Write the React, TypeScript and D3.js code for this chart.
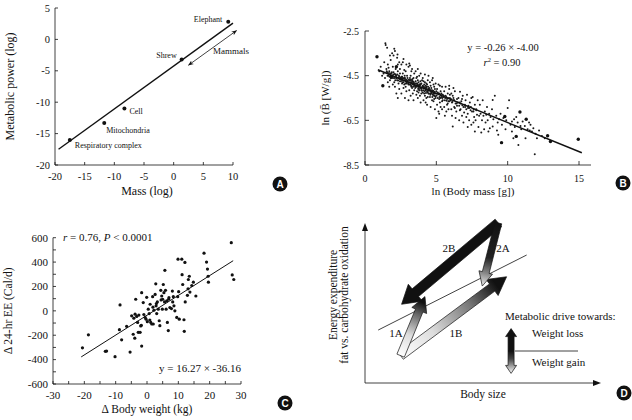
import React from 'react';
import * as d3 from 'd3';

const FONT = '"Liberation Serif", "Times New Roman", serif';

// ---- Panel A: metabolic power vs mass (log-log)
const massTicksA = [-20, -15, -10, -5, 0, 5, 10];
const powerTicksA = [-20, -15, -10, -5, 0, 5];
const organismsA = [
  { name: 'Elephant', mass: 9.2, power: 2.8 },
  { name: 'Shrew', mass: 1.35, power: -3.2 },
  { name: 'Cell', mass: -8.3, power: -11.0 },
  { name: 'Mitochondria', mass: -11.7, power: -13.3 },
  { name: 'Respiratory complex', mass: -17.5, power: -16.0 },
];
const fitA: [number, number][] = [[-19.4, -17.5], [10, 2.6]];
const mammalRangeA: [number, number][] = [[2.5, -4.1], [10.6, 1.4]];

// ---- Panel B: ln mass-specific metabolic rate vs ln body mass
const massTicksB = [0, 5, 10, 15];
const rateTicksB = [-2.5, -4.5, -6.5, -8.5];
const fitB = { slope: -0.26, intercept: -4.0, from: 0.9, to: 15.2 };
const speciesB: [number, number][] = [
  [1.0, -4.3], [1.1, -4.1], [1.3, -4.4], [1.35, -3.9], [1.4, -4.6], [1.45, -3.13], [1.5, -4.2], [1.2, -4.5], [1.43, -3.05],
  [1.55, -3.25], [1.6, -4.0], [1.65, -4.5], [1.7, -4.3], [1.75, -4.7], [1.8, -3.8], [1.85, -4.4], [1.9, -4.6], [1.95, -4.1],
  [1.6, -4.8], [1.7, -5.0], [1.8, -4.5], [1.9, -3.5], [2.0, -4.35], [1.55, -4.35], [1.75, -3.6], [1.95, -4.9], [1.65, -4.15],
  [2.05, -3.3], [2.1, -3.4], [2.15, -4.2], [2.2, -4.5], [2.25, -4.7], [2.3, -4.0], [2.35, -4.6], [2.4, -5.1], [2.45, -4.4],
  [2.05, -4.8], [2.1, -4.6], [2.2, -5.3], [2.3, -4.3], [2.4, -3.9], [2.45, -4.75], [2.15, -4.45], [2.25, -3.7], [2.35, -4.85],
  [2.4, -4.55], [2.3, -5.5], [2.5, -4.65], [2.1, -5.0], [2.45, -4.2], [2.0, -3.6], [2.28, -3.55],
  [2.55, -4.0], [2.6, -4.7], [2.65, -4.4], [2.7, -3.75], [2.75, -4.9], [2.8, -4.6], [2.85, -4.3], [2.9, -5.2], [2.95, -4.7],
  [2.55, -5.3], [2.6, -4.55], [2.7, -4.8], [2.75, -4.25], [2.8, -5.5], [2.85, -4.75], [2.9, -4.0], [2.95, -4.5], [2.6, -4.85],
  [2.7, -5.05], [2.8, -4.65], [2.65, -3.9], [2.9, -4.85], [2.55, -4.6], [2.75, -4.6], [3.0, -4.75], [2.85, -5.0], [2.62, -4.62],
  [3.05, -4.1], [3.1, -3.95], [3.15, -4.8], [3.2, -4.5], [3.25, -5.0], [3.3, -4.7], [3.35, -5.3], [3.4, -4.85], [3.45, -4.4],
  [3.05, -4.9], [3.1, -5.15], [3.15, -4.6], [3.2, -4.9], [3.25, -4.3], [3.3, -5.05], [3.35, -4.75], [3.4, -5.6], [3.45, -4.95],
  [3.1, -4.7], [3.2, -5.4], [3.3, -4.2], [3.4, -4.6], [3.15, -4.05], [3.35, -4.9], [3.05, -5.6], [3.25, -4.8], [3.45, -5.15],
  [3.5, -4.85], [3.22, -4.68], [3.38, -4.78],
  [3.55, -4.3], [3.6, -4.95], [3.65, -5.2], [3.7, -4.7], [3.75, -5.05], [3.8, -4.5], [3.85, -5.4], [3.9, -4.9], [3.95, -5.1],
  [3.55, -5.0], [3.6, -4.6], [3.65, -4.85], [3.7, -5.5], [3.75, -4.8], [3.8, -5.15], [3.85, -4.95], [3.9, -4.4], [3.95, -5.3],
  [3.6, -5.35], [3.7, -4.2], [3.8, -4.9], [3.9, -5.7], [3.55, -4.75], [3.75, -5.25], [3.95, -4.85], [3.65, -4.55], [3.85, -5.05],
  [4.0, -4.7], [3.72, -4.95], [3.88, -4.75],
  [4.05, -4.6], [4.1, -5.0], [4.15, -5.3], [4.2, -4.8], [4.25, -5.15], [4.3, -5.5], [4.35, -4.9], [4.4, -5.2], [4.45, -4.5],
  [4.05, -5.25], [4.1, -4.75], [4.15, -5.05], [4.2, -5.4], [4.25, -4.95], [4.3, -5.1], [4.35, -5.8], [4.4, -4.7], [4.45, -5.3],
  [4.1, -5.6], [4.2, -4.45], [4.3, -4.85], [4.4, -5.45], [4.15, -4.9], [4.35, -5.2], [4.5, -5.05], [4.25, -5.7], [4.45, -5.1],
  [4.05, -4.95], [4.28, -5.02], [4.42, -5.0],
  [4.55, -4.8], [4.6, -5.3], [4.65, -5.05], [4.7, -5.6], [4.75, -5.2], [4.8, -4.9], [4.85, -5.4], [4.9, -5.1], [4.95, -5.5],
  [4.55, -5.45], [4.6, -4.95], [4.65, -5.25], [4.7, -4.7], [4.75, -5.35], [4.8, -5.65], [4.85, -5.0], [4.9, -5.3], [4.95, -4.85],
  [4.6, -5.9], [4.7, -5.15], [4.8, -5.3], [4.9, -6.0], [5.0, -5.2], [4.75, -4.6], [4.55, -5.15], [4.85, -5.55], [5.0, -6.4],
  [5.05, -5.1], [5.1, -5.5], [5.15, -4.9], [5.2, -5.3], [5.25, -5.7], [5.3, -5.2], [5.35, -5.45], [5.4, -5.0], [5.45, -5.6],
  [5.05, -5.8], [5.1, -5.25], [5.2, -5.55], [5.25, -4.95], [5.3, -5.9], [5.35, -5.3], [5.4, -5.65], [5.45, -5.35], [5.15, -6.1],
  [5.3, -5.5], [5.5, -5.45], [5.2, -6.2], [5.4, -6.0],
  [5.55, -5.2], [5.6, -5.6], [5.65, -5.0], [5.7, -5.45], [5.75, -5.8], [5.8, -5.3], [5.85, -5.65], [5.9, -5.1], [5.95, -5.5],
  [5.55, -5.9], [5.65, -5.4], [5.75, -5.55], [5.85, -6.0], [5.95, -5.35], [5.6, -6.3], [5.8, -5.75], [6.0, -5.6], [5.7, -6.1],
  [5.9, -4.95],
  [6.05, -5.3], [6.1, -5.7], [6.15, -6.78], [6.2, -5.5], [6.25, -5.9], [6.3, -5.2], [6.35, -5.75], [6.4, -6.1], [6.45, -5.55],
  [6.05, -6.0], [6.15, -5.4], [6.25, -5.6], [6.35, -6.4], [6.45, -5.85], [6.1, -6.3], [6.3, -5.95], [6.5, -5.7], [6.2, -5.05],
  [6.55, -5.5], [6.6, -5.85], [6.66, -5.22], [6.7, -6.0], [6.75, -5.65], [6.8, -6.3], [6.85, -5.4], [6.9, -5.9], [6.95, -6.15],
  [6.6, -6.5], [6.7, -5.75], [6.8, -5.55], [6.9, -6.6], [7.0, -5.8], [6.65, -6.05],
  [7.05, -5.6], [7.1, -6.0], [7.15, -5.35], [7.2, -6.2], [7.25, -5.85], [7.3, -6.5], [7.35, -5.7], [7.4, -6.05], [7.45, -6.7],
  [7.1, -6.35], [7.3, -5.95], [7.45, -5.5], [7.2, -6.8], [7.5, -6.1],
  [7.55, -5.45], [7.6, -6.1], [7.65, -6.35], [7.7, -5.8], [7.75, -6.5], [7.8, -6.0], [7.85, -6.25], [7.9, -5.6], [7.95, -6.8],
  [7.6, -6.6], [7.8, -6.05], [8.0, -6.3], [7.7, -7.0],
  [8.05, -5.8], [8.1, -6.2], [8.2, -6.5], [8.25, -5.6], [8.3, -6.3], [8.35, -6.9], [8.4, -6.1], [8.45, -6.6], [8.15, -7.05],
  [8.5, -6.25], [8.55, -5.9], [8.6, -6.5], [8.7, -6.2], [8.75, -6.85], [8.8, -6.35], [8.9, -6.0], [8.95, -6.78], [8.95, -5.59],
  [8.65, -7.0], [9.0, -6.45],
  [9.1, -5.4], [9.2, -6.3], [9.3, -6.6], [9.34, -7.15], [9.4, -6.45], [9.5, -6.2], [9.6, -6.7], [9.7, -6.4], [9.85, -6.9],
  [9.9, -6.5], [10.0, -5.95], [9.25, -6.95], [10.1, -5.6], [10.2, -6.7], [10.3, -6.55], [10.4, -7.3], [10.5, -6.8],
  [10.7, -6.6], [10.9, -6.75], [10.45, -6.45], [10.75, -7.6], [10.95, -6.9], [10.3, -7.0], [10.6, -6.35],
  [11.05, -6.55], [11.2, -6.75], [11.4, -6.9], [11.5, -6.6], [11.6, -6.7], [11.7, -7.0], [11.8, -6.85], [11.9, -8.02],
  [11.95, -7.1], [11.25, -7.3], [11.55, -6.95], [12.05, -7.3], [12.2, -6.95], [12.4, -7.2], [12.6, -7.3],
  // dense band hugging the fitted line
  [1.52, -4.3], [1.58, -4.5], [1.68, -4.38], [1.72, -4.55], [1.78, -4.4], [1.82, -4.62], [1.88, -4.35], [1.92, -4.52],
  [1.98, -4.45], [2.02, -4.6], [2.08, -4.42], [2.12, -4.7], [2.18, -4.5], [2.22, -4.62], [2.27, -4.45], [2.32, -4.72],
  [2.38, -4.5], [2.42, -4.65], [2.48, -4.58], [2.52, -4.75], [2.58, -4.55], [2.63, -4.8], [2.68, -4.62], [2.72, -4.72],
  [2.78, -4.5], [2.83, -4.85], [2.88, -4.68], [2.93, -4.8], [2.98, -4.6], [3.02, -4.85], [3.08, -4.68], [3.12, -4.9],
  [3.18, -4.72], [3.23, -4.95], [3.28, -4.8], [3.33, -4.65], [3.37, -5.0], [3.42, -4.8], [3.48, -4.95], [3.52, -5.05],
  [3.58, -4.85], [3.63, -5.0], [3.68, -4.9], [3.73, -5.1], [3.78, -4.95], [3.83, -5.15], [3.87, -4.88], [3.92, -5.05],
  [3.98, -5.18], [4.02, -5.0], [4.08, -5.15], [4.12, -4.98], [4.18, -5.2], [4.22, -5.05], [4.27, -5.28], [4.32, -5.0],
  [4.38, -5.25], [4.43, -5.1], [4.48, -5.3], [4.52, -5.12], [4.58, -5.35], [4.62, -5.15], [4.68, -5.3], [4.72, -5.45],
  [4.78, -5.18], [4.82, -5.38], [4.88, -5.22], [4.92, -5.42], [4.98, -5.3], [5.02, -5.4], [5.12, -5.3], [5.22, -5.45],
  [5.32, -5.35], [5.42, -5.5], [5.52, -5.4], [5.62, -5.5], [5.72, -5.62], [5.82, -5.5], [5.92, -5.65], [6.02, -5.55],
  [6.12, -5.68], [6.22, -5.6], [6.42, -5.75], [6.62, -5.7], [6.82, -5.82], [7.02, -5.9], [7.22, -5.95], [7.42, -5.9],
  [7.62, -6.02],
];
const largeSpeciesB: [number, number][] = [
  [0.84, -3.65], [1.25, -4.95], [1.85, -4.55], [2.2, -4.1], [9.57, -7.5], [9.8, -6.33], [10.6, -7.22], [10.86, -6.13],
  [11.3, -6.45], [12.8, -7.19], [13.0, -7.45], [14.95, -7.35],
];

// ---- Panel C: change in 24-h energy expenditure vs change in body weight
const weightTicksC = [-30, -20, -10, 0, 10, 20, 30];
const weightMinorC = [-25, -15, -5, 5, 15, 25];
const eeTicksC = [-600, -400, -200, 0, 200, 400, 600];
const eeMinorC = [-500, -300, -100, 100, 300, 500];
const fitC = { slope: 16.27, intercept: -36.16, from: -21, to: 27.5 };
const subjectsC: [number, number][] = [
  [-20.6, -303], [-18.7, -197], [-13.3, -332], [-12.9, -330], [-10.2, -376], [-8.6, 49], [-8.8, -154], [-8.1, -238],
  [-6.5, -127], [-5.4, -338], [-4.9, -41], [-4.4, -192], [-3.9, -224], [-3.6, 95], [-3.8, -27], [-3.3, -46], [-3.0, -95],
  [-2.8, -176], [-2.2, -176], [-2.0, -124], [-1.8, -119], [-1.7, -289], [-1.7, 149], [-1.2, 68], [-1.0, -30], [-0.6, -54],
  [-0.3, -68], [-0.1, 111], [0.1, -89], [0.4, 14], [0.7, -22], [1.0, 54], [1.2, -95], [1.5, -108], [1.8, 116], [1.9, 30],
  [2.0, -108], [2.2, 5], [2.6, 135], [2.8, 222], [2.9, 41], [3.1, -22], [3.3, 73], [3.6, 14], [3.9, -81], [4.1, -122],
  [4.4, 168], [4.7, 122], [4.9, 14], [5.0, 95], [5.2, 216], [5.4, 149], [5.6, 73], [5.7, 332], [5.9, 168], [6.1, 14],
  [6.3, 81], [6.5, -95], [6.8, -162], [7.0, 108], [7.3, 27], [7.8, 19], [8.1, 162], [8.2, 73], [8.4, 116], [8.6, 41],
  [8.9, 0], [9.5, -54], [9.8, 116], [9.9, 424], [10.1, 157], [10.3, -68], [11.1, 424], [11.2, 297], [11.4, 216],
  [11.8, -73], [11.9, -168], [12.1, 397], [12.2, 73], [12.9, 127], [13.1, 181], [13.2, 257], [13.5, 284], [13.7, 154],
  [14.3, 208], [14.8, 235], [15.6, 122], [18.2, 473], [19.0, 400], [19.3, 343], [19.5, 284], [19.6, 235], [26.9, 559],
  [27.2, 295], [27.7, 257], [-4.2, -60], [-2.6, -35], [0.9, -75], [3.0, 60], [4.5, 90], [6.9, 95],
];

// ---- Panel D: schematic (arbitrary units 0-100 on both axes)
const referenceLineD: [number, number][] = [[5.6, 33.1], [68.5, 80]];
const pathwaysD = [
  { label: '1B', from: [15.1, 17.1], to: [60, 66.4] },
  { label: '1A', from: [15.1, 17.1], to: [25.4, 54] },
  { label: '2B', from: [56.5, 100], to: [15.5, 49.2] },
  { label: '2A', from: [56.5, 100], to: [49.7, 60.6] },
];
const legendD = [
  { label: 'Weight loss', from: [61.9, 20], to: [61.9, 34] },
  { label: 'Weight gain', from: [61.9, 20], to: [61.9, 6] },
];

type Pt = [number, number];

function blockArrow(p0: Pt, p1: Pt, w: number, hw: number, hl: number) {
  const dx = p1[0] - p0[0], dy = p1[1] - p0[1];
  const len = Math.hypot(dx, dy);
  const ux = dx / len, uy = dy / len;
  const nx = -uy, ny = ux;
  const hb: Pt = [p1[0] - ux * hl, p1[1] - uy * hl];
  const pts: Pt[] = [
    [p0[0] + nx * w, p0[1] + ny * w],
    [hb[0] + nx * w, hb[1] + ny * w],
    [hb[0] + nx * hw, hb[1] + ny * hw],
    p1,
    [hb[0] - nx * hw, hb[1] - ny * hw],
    [hb[0] - nx * w, hb[1] - ny * w],
    [p0[0] - nx * w, p0[1] - ny * w],
  ];
  return 'M' + pts.map(p => p.join(',')).join('L') + 'Z';
}

function Badge({ x, y, t }: { x: number; y: number; t: string }) {
  return (
    <g>
      <circle cx={x} cy={y} r={7.5} fill="#111" />
      <text x={x} y={y + 3.6} textAnchor="middle" fill="#fff" fontSize={10} fontWeight="bold"
        fontFamily='"Liberation Sans", Arial, sans-serif'>{t}</text>
    </g>
  );
}

function PanelA() {
  const x = d3.scaleLinear().domain([-20, 10]).range([55, 233]);
  const y = d3.scaleLinear().domain([-20, 5]).range([165, 8]);
  const labelPos: Record<string, { dx: number; dy: number; anchor: string }> = {
    'Elephant': { dx: -6, dy: 0, anchor: 'end' },
    'Shrew': { dx: -5, dy: -1, anchor: 'end' },
    'Cell': { dx: 5, dy: 6, anchor: 'start' },
    'Mitochondria': { dx: 2, dy: 10, anchor: 'start' },
    'Respiratory complex': { dx: 5, dy: 8, anchor: 'start' },
  };
  const line = d3.line<Pt>().x(d => x(d[0])).y(d => y(d[1]));
  return (
    <g fontFamily={FONT} fill="#111">
      <line x1={x(-20)} x2={x(10)} y1={y(-20)} y2={y(-20)} stroke="#111" strokeWidth={0.8} />
      <line x1={x(-20)} x2={x(-20)} y1={y(-20)} y2={y(5)} stroke="#111" strokeWidth={0.8} />
      {massTicksA.map(t => (
        <g key={t}>
          <line x1={x(t)} x2={x(t)} y1={y(-20)} y2={y(-20) - 3} stroke="#111" strokeWidth={0.8} />
          <text x={x(t)} y={180} textAnchor="middle" fontSize={10.5}>{String(t)}</text>
        </g>
      ))}
      {powerTicksA.map(t => (
        <g key={t}>
          <line x1={x(-20)} x2={x(-20) + 3} y1={y(t)} y2={y(t)} stroke="#111" strokeWidth={0.8} />
          <text x={50} y={y(t) + 3.5} textAnchor="end" fontSize={10.5}>{String(t)}</text>
        </g>
      ))}
      <path d={line(fitA) || ''} stroke="#111" strokeWidth={1.4} fill="none" />
      {organismsA.map(o => {
        const lp = labelPos[o.name];
        return (
          <g key={o.name}>
            <circle cx={x(o.mass)} cy={y(o.power)} r={2} fill="#111" />
            <text x={x(o.mass) + lp.dx} y={y(o.power) + lp.dy} textAnchor={lp.anchor} fontSize={8}>{o.name}</text>
          </g>
        );
      })}
      <path d={line(mammalRangeA) || ''} stroke="#111" strokeWidth={0.8} fill="none"
        markerStart="url(#thinArrow)" markerEnd="url(#thinArrow)" />
      <text x={213} y={54} fontSize={9}>Mammals</text>
      <text x={147} y={195} textAnchor="middle" fontSize={12}>Mass (log)</text>
      <text transform={`translate(14,${(y(-20) + y(5)) / 2}) rotate(-90)`} textAnchor="middle" fontSize={12}>Metabolic power (log)</text>
      <Badge x={280} y={184} t="A" />
    </g>
  );
}

function PanelB() {
  const x = d3.scaleLinear().domain([0, 15]).range([365, 579]);
  const y = d3.scaleLinear().domain([-8.5, -2.5]).range([165, 31]);
  return (
    <g fontFamily={FONT} fill="#111">
      <line x1={365} x2={591} y1={y(-8.5)} y2={y(-8.5)} stroke="#111" strokeWidth={0.8} />
      <line x1={365} x2={365} y1={y(-8.5)} y2={y(-2.5)} stroke="#111" strokeWidth={0.8} />
      {massTicksB.map(t => (
        <g key={t}>
          <line x1={x(t)} x2={x(t)} y1={y(-8.5)} y2={y(-8.5) - 4} stroke="#111" strokeWidth={0.8} />
          <text x={x(t)} y={182} textAnchor="middle" fontSize={10}>{String(t)}</text>
        </g>
      ))}
      {rateTicksB.map(t => (
        <g key={t}>
          <line x1={365} x2={369} y1={y(t)} y2={y(t)} stroke="#111" strokeWidth={0.8} />
          <text x={359} y={y(t) + 3.5} textAnchor="end" fontSize={10}>{String(t)}</text>
        </g>
      ))}
      {speciesB.map((d, i) => (
        <circle key={i} cx={x(d[0])} cy={y(d[1])} r={1.0} fill="#1a1a1a" />
      ))}
      {largeSpeciesB.map((d, i) => (
        <circle key={'l' + i} cx={x(d[0])} cy={y(d[1])} r={1.7} fill="#111" />
      ))}
      <line x1={x(fitB.from)} x2={x(fitB.to)}
        y1={y(fitB.slope * fitB.from + fitB.intercept)} y2={y(fitB.slope * fitB.to + fitB.intercept)}
        stroke="#111" strokeWidth={1.5} />
      <text x={503} y={51} textAnchor="middle" fontSize={10.5}>{'y = -0.26 × -4.00'}</text>
      <text x={502} y={66} textAnchor="middle" fontSize={10.5}>
        <tspan fontStyle="italic">r</tspan><tspan dy={-4} fontSize={6.5}>2</tspan><tspan dy={4}>{' = 0.90'}</tspan>
      </text>
      <text x={473} y={195} textAnchor="middle" fontSize={11}>{'ln (Body mass [g])'}</text>
      <text transform={`translate(329,${(y(-8.5) + y(-2.5)) / 2}) rotate(-90)`} textAnchor="middle" fontSize={11}>
        {'ln (B\u0304 [W/g])'}
      </text>
      <Badge x={623} y={183} t="B" />
    </g>
  );
}

function PanelC() {
  const x = d3.scaleLinear().domain([-30, 30]).range([53, 241]);
  const y = d3.scaleLinear().domain([-600, 600]).range([384, 237.7]);
  return (
    <g fontFamily={FONT} fill="#111">
      <line x1={x(-30)} x2={x(30)} y1={y(-600)} y2={y(-600)} stroke="#111" strokeWidth={0.8} />
      <line x1={x(-30)} x2={x(-30)} y1={y(-600)} y2={y(600)} stroke="#111" strokeWidth={0.8} />
      {weightTicksC.concat(weightMinorC).map(t => (
        <line key={t} x1={x(t)} x2={x(t)} y1={y(-600)} y2={y(-600) - 3} stroke="#111" strokeWidth={0.8} />
      ))}
      {weightTicksC.map(t => (
        <text key={t} x={x(t)} y={399} textAnchor="middle" fontSize={11}>{String(t)}</text>
      ))}
      {eeTicksC.concat(eeMinorC).map(t => (
        <line key={t} x1={x(-30)} x2={x(-30) + 3} y1={y(t)} y2={y(t)} stroke="#111" strokeWidth={0.8} />
      ))}
      {eeTicksC.map(t => (
        <text key={t} x={48} y={y(t) + 3.8} textAnchor="end" fontSize={11}>{String(t)}</text>
      ))}
      {subjectsC.map((d, i) => (
        <circle key={i} cx={x(d[0])} cy={y(d[1])} r={1.6} fill="#111" />
      ))}
      <line x1={x(fitC.from)} x2={x(fitC.to)}
        y1={y(fitC.slope * fitC.from + fitC.intercept)} y2={y(fitC.slope * fitC.to + fitC.intercept)}
        stroke="#111" strokeWidth={1} />
      <text x={63} y={241} fontSize={11}>
        <tspan fontStyle="italic">r</tspan><tspan>{' = 0.76,  '}</tspan><tspan fontStyle="italic">P</tspan><tspan>{' < 0.0001'}</tspan>
      </text>
      <text x={241} y={372} textAnchor="end" fontSize={11}>{'y = 16.27 × -36.16'}</text>
      <text x={147} y={413} textAnchor="middle" fontSize={11.5}>{'Δ Body weight (kg)'}</text>
      <text transform={`translate(12,${(y(-600) + y(600)) / 2}) rotate(-90)`} textAnchor="middle" fontSize={11.5}>
        {'Δ 24-hr EE (Cal/d)'}
      </text>
      <Badge x={285} y={403} t="C" />
    </g>
  );
}

function PanelD() {
  const x = d3.scaleLinear().domain([0, 100]).range([365, 601]);
  const y = d3.scaleLinear().domain([0, 100]).range([383, 223]);
  const px = (p: number[]): Pt => [x(p[0]), y(p[1])];
  const arrowSize: Record<string, [number, number, number]> = {
    '2B': [5, 11, 18], '2A': [3.5, 7, 14], '1A': [4, 8, 15], '1B': [4.5, 10, 18],
    'Weight loss': [3, 5.5, 8], 'Weight gain': [3, 5.5, 8],
  };
  const grads: Record<string, [number, string][]> = {
    '2B': [[0, '#111'], [1, '#111']],
    '2A': [[0, '#111'], [0.55, '#222'], [0.8, '#888'], [1, '#eee']],
    '1A': [[0, '#fff'], [0.35, '#ddd'], [0.7, '#666'], [0.9, '#111'], [1, '#111']],
    '1B': [[0, '#fff'], [0.3, '#ddd'], [0.65, '#777'], [0.9, '#111'], [1, '#111']],
    'Weight loss': [[0, '#111'], [1, '#111']],
    'Weight gain': [[0, '#111'], [0.35, '#444'], [1, '#fff']],
  };
  const all = [...pathwaysD, ...legendD];
  const labelAt: Record<string, Pt> = { '2B': [449, 252], '2A': [503, 252], '1A': [396, 337], '1B': [456, 337] };
  return (
    <g fontFamily={FONT} fill="#111">
      <defs>
        {all.map((a, i) => {
          const p0 = px(a.from), p1 = px(a.to);
          return (
            <linearGradient key={a.label} id={'g' + i} gradientUnits="userSpaceOnUse"
              x1={p0[0]} y1={p0[1]} x2={p1[0]} y2={p1[1]}>
              {grads[a.label].map(([o, c], j) => <stop key={j} offset={o} stopColor={c} />)}
            </linearGradient>
          );
        })}
      </defs>
      <line x1={x(0)} x2={x(100) - 4} y1={y(0)} y2={y(0)} stroke="#111" strokeWidth={0.8} />
      <path d={`M${x(100)},${y(0)}L${x(100) - 8},${y(0) - 3}L${x(100) - 8},${y(0) + 3}Z`} fill="#111" />
      <line x1={x(0)} x2={x(0)} y1={y(0)} y2={y(100) + 4} stroke="#111" strokeWidth={0.8} />
      <path d={`M${x(0)},${y(100)}L${x(0) - 3},${y(100) + 8}L${x(0) + 3},${y(100) + 8}Z`} fill="#111" />
      <line x1={x(referenceLineD[0][0])} y1={y(referenceLineD[0][1])} x2={x(referenceLineD[1][0])} y2={y(referenceLineD[1][1])}
        stroke="#111" strokeWidth={0.8} />
      {all.map((a, i) => {
        const [w, hw, hl] = arrowSize[a.label];
        return <path key={a.label} d={blockArrow(px(a.from), px(a.to), w, hw, hl)} fill={`url(#g${i})`}
          stroke="#111" strokeWidth={0.7} strokeLinejoin="miter" />;
      })}
      {pathwaysD.map(a => (
        <text key={a.label} x={labelAt[a.label][0]} y={labelAt[a.label][1]} textAnchor="middle" fontSize={11}>{a.label}</text>
      ))}
      <line x1={515} x2={578} y1={y(20)} y2={y(20)} stroke="#111" strokeWidth={0.8} />
      <text x={505} y={320} fontSize={11}>{'Metabolic drive towards:'}</text>
      <text x={532} y={337} fontSize={11}>{legendD[0].label}</text>
      <text x={532} y={366} fontSize={11}>{legendD[1].label}</text>
      <text x={483} y={398} textAnchor="middle" fontSize={11.5}>{'Body size'}</text>
      <text transform={`translate(337,${(y(0) + y(100)) / 2 - 8}) rotate(-90)`} textAnchor="middle" fontSize={11.5}>{'Energy expenditure'}</text>
      <text transform={`translate(348,${(y(0) + y(100)) / 2 - 8}) rotate(-90)`} textAnchor="middle" fontSize={11.5}>{'fat vs. carbohydrate oxidation'}</text>
      <Badge x={624} y={393} t="D" />
    </g>
  );
}

export default function App() {
  return (
    <svg width={632} height={420} viewBox="0 0 632 420"
      style={{ position: 'absolute', left: 0, top: 0, background: '#fff' }}>
      <defs>
        <marker id="thinArrow" viewBox="0 0 10 10" refX={9} refY={5} markerWidth={7} markerHeight={7}
          orient="auto-start-reverse">
          <path d="M0,1L10,5L0,9L3,5Z" fill="#111" />
        </marker>
      </defs>
      <rect width={632} height={420} fill="#fff" />
      <PanelA />
      <PanelB />
      <PanelC />
      <PanelD />
    </svg>
  );
}
